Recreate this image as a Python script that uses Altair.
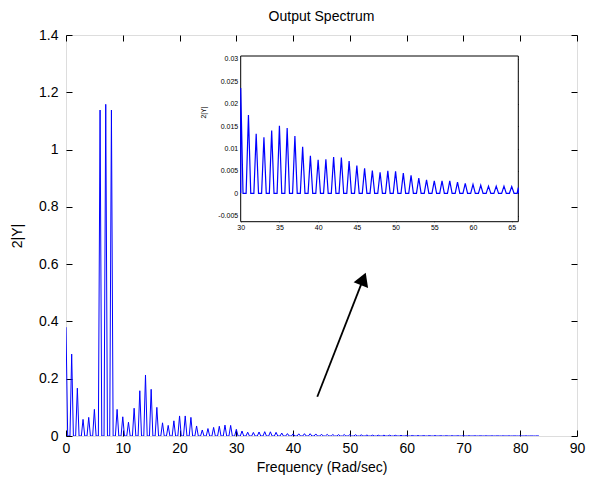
import altair as alt
import pandas as pd

# ---------------- data ----------------
peak_freq = list(range(0, 84))
peak_vals = [0.38, 0.286, 0.167, 0.058, 0.065, 0.093, 1.138, 1.158, 1.138, 0.093,
             0.067, 0.048, 0.097, 0.158, 0.213, 0.163, 0.100, 0.046, 0.037, 0.053,
             0.070, 0.070, 0.065, 0.035, 0.021, 0.026, 0.030, 0.034, 0.038, 0.037,
             0.0235, 0.0175, 0.0133, 0.0125, 0.0140, 0.0151, 0.0146, 0.0128, 0.0104, 0.0084,
             0.0075, 0.0076, 0.0081, 0.0080, 0.0072, 0.0062, 0.0056, 0.0051, 0.0047, 0.0050,
             0.0049, 0.0045, 0.0040, 0.0034, 0.0030, 0.0028, 0.0028, 0.0028, 0.0025, 0.0022,
             0.0020, 0.0018, 0.0016, 0.0016, 0.0016, 0.0015, 0.0013,
             0.0012, 0.0011, 0.0011, 0.0010, 0.0010, 0.0009, 0.0009, 0.0008, 0.0008, 0.0008,
             0.0007, 0.0007, 0.0006, 0.0006, 0.0006, 0.0005, 0.0005]
half_base = 0.3  # spectrum returns to zero this far either side of each line

main_xticks = [0, 10, 20, 30, 40, 50, 60, 70, 80, 90]
main_yticks = [0, 0.2, 0.4, 0.6, 0.8, 1, 1.2, 1.4]
main_xdomain = [0, 90]
main_ydomain = [0, 1.4]

inset_xticks = [30, 35, 40, 45, 50, 55, 60, 65]
inset_yticks = [-0.005, 0, 0.005, 0.01, 0.015, 0.02, 0.025, 0.03]
inset_xdomain = [30, 65.85]
inset_ydomain = [-0.00634, 0.03067]

arrow_tail = [44.26, 0.137]
arrow_head = [52.36, 0.5485]
arrow_angle = 21.3

# ---------------- build table ----------------
rows = []
for f, v in zip(peak_freq, peak_vals):
    if f > 0:
        rows.append({"f": f - half_base, "a": 0.0})
    rows.append({"f": f, "a": v})
    rows.append({"f": f + half_base, "a": 0.0})
spec = pd.DataFrame(rows)
spec["o"] = range(len(spec))
inset_df = spec[(spec.f >= inset_xdomain[0] - half_base) & (spec.f <= 66 + half_base)]

W, H = 511, 401
# inset placement inside plot area (pixels)
IX0, IX1 = 174.7, 452.3
IY0, IY1 = 21.0, 186.7

FONT = "Liberation Sans"
BLUE = "#0000ff"

def xs_main():
    return alt.Scale(domain=main_xdomain, nice=False, zero=False)

def ys_main():
    return alt.Scale(domain=main_ydomain, nice=False, zero=False)

def xs_in():
    return alt.Scale(domain=inset_xdomain, range=[IX0, IX1], nice=False, zero=False, clamp=True)

def ys_in():
    return alt.Scale(domain=inset_ydomain, range=[IY1, IY0], nice=False, zero=False)

def tick_axis(orient, offset, values, size):
    return alt.Axis(orient=orient, offset=offset, values=values, labels=False, domain=False,
                    ticks=True, tickSize=size, tickColor="black", tickWidth=1, title=None, grid=False)

lbl = "datum.value + ''"

# main line with labelled axes
main_line = alt.Chart(spec).mark_line(color=BLUE, strokeWidth=1, clip=True).encode(
    x=alt.X("f:Q", scale=xs_main(),
            axis=alt.Axis(orient="bottom", values=main_xticks, labelExpr=lbl, ticks=False, tickSize=0,
                          domain=False, grid=False, labelPadding=5, labelFontSize=14, labelFlush=False,
                          title="Frequency (Rad/sec)", titleFontSize=14, titlePadding=5,
                          titleFontWeight="normal")),
    y=alt.Y("a:Q", scale=ys_main(),
            axis=alt.Axis(orient="left", values=main_yticks, labelExpr=lbl, ticks=False, tickSize=0,
                          domain=False, grid=False, labelPadding=8, labelFontSize=14, labelFlush=False,
                          title="2|Y|", titleFontSize=14, titlePadding=14, titleFontWeight="normal")),
    order="o:Q",
)

ends = pd.DataFrame({"f": main_xdomain, "a": main_ydomain})
main_ticks_a = alt.Chart(ends).mark_point(opacity=0).encode(
    x=alt.X("f:Q", scale=xs_main(), axis=tick_axis("top", -H, main_xticks, 6)),
    y=alt.Y("a:Q", scale=ys_main(), axis=tick_axis("right", -W, main_yticks, 6)),
)
main_ticks_b = alt.Chart(ends).mark_point(opacity=0).encode(
    x=alt.X("f:Q", scale=xs_main(), axis=tick_axis("bottom", -H, main_xticks, 6)),
    y=alt.Y("a:Q", scale=ys_main(), axis=tick_axis("left", -W, main_yticks, 6)),
)

# inset
box = pd.DataFrame({"x0": [inset_xdomain[0]], "x1": [inset_xdomain[1]],
                    "y0": [inset_ydomain[0]], "y1": [inset_ydomain[1]]})
inset_box = alt.Chart(box).mark_rect(fill="white", stroke="black", strokeWidth=1).encode(
    x=alt.X("x0:Q", scale=xs_in(), axis=None), x2="x1:Q",
    y=alt.Y("y0:Q", scale=ys_in(), axis=None), y2="y1:Q",
)

inset_line = alt.Chart(inset_df).mark_line(color=BLUE, strokeWidth=1.2).encode(
    x=alt.X("f:Q", scale=xs_in(),
            axis=alt.Axis(orient="bottom", offset=IY1 - H, values=inset_xticks, labelExpr=lbl,
                          ticks=False, tickSize=0, domain=False, grid=False, labelPadding=2,
                          labelFontSize=7, labelFlush=False, title=None)),
    y=alt.Y("a:Q", scale=ys_in(),
            axis=alt.Axis(orient="left", offset=-IX0, values=inset_yticks, labelExpr=lbl,
                          ticks=False, tickSize=0, domain=False, grid=False, labelPadding=3,
                          labelFontSize=7, labelFlush=False, title="2|Y|", titleFontSize=7,
                          titleFontWeight="normal", titleX=-34, titleY=77, titleAngle=270)),
    order="o:Q",
)

iends = pd.DataFrame({"f": inset_xdomain, "a": inset_ydomain})
inset_ticks_a = alt.Chart(iends).mark_point(opacity=0).encode(
    x=alt.X("f:Q", scale=xs_in(), axis=tick_axis("top", -IY1, inset_xticks, 3)),
    y=alt.Y("a:Q", scale=ys_in(), axis=tick_axis("right", IX0 - W, inset_yticks, 3)),
)
inset_ticks_b = alt.Chart(iends).mark_point(opacity=0).encode(
    x=alt.X("f:Q", scale=xs_in(), axis=tick_axis("bottom", IY0 - H, inset_xticks, 3)),
    y=alt.Y("a:Q", scale=ys_in(), axis=tick_axis("left", -IX1, inset_yticks, 3)),
)

# arrow
arr = pd.DataFrame({"x0": [arrow_tail[0]], "y0": [arrow_tail[1]],
                    "x1": [arrow_head[0]], "y1": [arrow_head[1]]})
arrow_shaft = alt.Chart(arr).mark_rule(color="black", strokeWidth=1.8).encode(
    x=alt.X("x0:Q", scale=xs_main(), axis=None), x2="x1:Q",
    y=alt.Y("y0:Q", scale=ys_main(), axis=None), y2="y1:Q",
)
arrow_tip = alt.Chart(arr).mark_point(shape="triangle-up", filled=True, color="black",
                                      size=240, opacity=1, angle=arrow_angle).encode(
    x=alt.X("x1:Q", scale=xs_main(), axis=None),
    y=alt.Y("y1:Q", scale=ys_main(), axis=None),
)

chart = alt.layer(
    main_line, main_ticks_a, main_ticks_b,
    inset_box, inset_line, inset_ticks_a, inset_ticks_b,
    arrow_shaft, arrow_tip,
).resolve_scale(x="independent", y="independent").resolve_axis(
    x="independent", y="independent"
).properties(
    width=W, height=H,
    title=alt.TitleParams("Output Spectrum", fontSize=14, font=FONT, fontWeight="normal",
                          anchor="middle", frame="group", offset=4, color="black"),
    autosize=alt.AutoSizeParams(type="none"),
    padding={"left": 58, "top": 27, "right": 11, "bottom": 40},
).configure_view(stroke="black", strokeWidth=1).configure_axis(
    labelFont=FONT, titleFont=FONT, labelColor="black", titleColor="black"
).configure(background="white")

chart.save("out.html", embed_options={"renderer": "svg", "actions": False})
